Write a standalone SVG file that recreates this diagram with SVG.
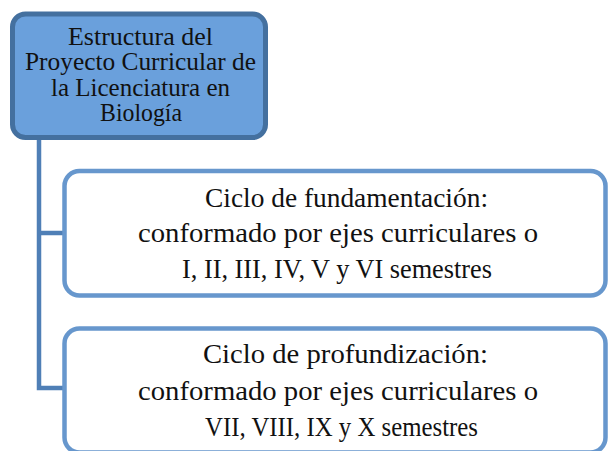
<svg xmlns="http://www.w3.org/2000/svg" width="610" height="451" viewBox="0 0 610 451">
<style>
.conn{fill:none;stroke:#4f7fb6;stroke-width:4.5;stroke-linejoin:miter}
.root{fill:#6aa0dc;stroke:#44709f;stroke-width:5}
.child{fill:#ffffff;stroke:#6797cd;stroke-width:4.5}
.t1{font-family:"Liberation Serif","DejaVu Serif",serif;font-size:24.5px;fill:#111;text-anchor:middle}
.t2{font-family:"Liberation Serif","DejaVu Serif",serif;font-size:28px;fill:#111;text-anchor:middle}
</style>
<rect width="610" height="451" fill="#ffffff"/>
<g id="connectors">
<path class="conn" d="M39,139 V388 H64"/>
<path class="conn" d="M39,233 H64"/>
</g>
<g id="root">
<rect class="root" x="12.5" y="14" width="253" height="123.5" rx="13"/>
<text class="t1" x="140.5" y="45" textLength="145" lengthAdjust="spacingAndGlyphs">Estructura del</text>
<text class="t1" x="140.5" y="70" textLength="231" lengthAdjust="spacingAndGlyphs">Proyecto Curricular de</text>
<text class="t1" x="140.5" y="95.5" textLength="179" lengthAdjust="spacingAndGlyphs">la Licenciatura en</text>
<text class="t1" x="141" y="121" textLength="82" lengthAdjust="spacingAndGlyphs">Biología</text>
</g>
<g id="ciclo-fundamentacion">
<rect class="child" x="64.5" y="171" width="541" height="124.5" rx="15"/>
<text class="t2" x="346.5" y="207" textLength="283" lengthAdjust="spacingAndGlyphs">Ciclo de fundamentación:</text>
<text class="t2" x="338" y="242" textLength="400" lengthAdjust="spacingAndGlyphs">conformado por ejes curriculares o</text>
<text class="t2" x="337" y="278" textLength="310" lengthAdjust="spacingAndGlyphs">I, II, III, IV, V y VI semestres</text>
</g>
<g id="ciclo-profundizacion">
<rect class="child" x="64.5" y="328.5" width="541" height="124" rx="15"/>
<text class="t2" x="345.5" y="363" textLength="285" lengthAdjust="spacingAndGlyphs">Ciclo de profundización:</text>
<text class="t2" x="338" y="399.5" textLength="400" lengthAdjust="spacingAndGlyphs">conformado por ejes curriculares o</text>
<text class="t2" x="341.5" y="436" textLength="273" lengthAdjust="spacingAndGlyphs">VII, VIII, IX y X semestres</text>
</g>
</svg>
